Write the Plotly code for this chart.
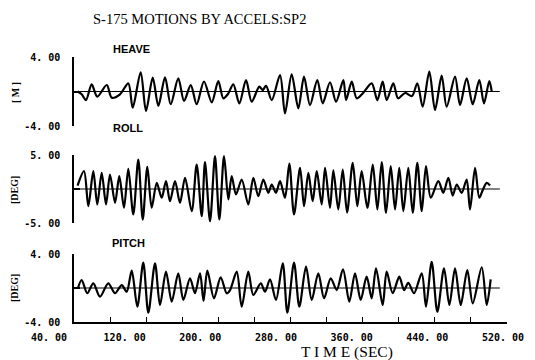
import plotly.graph_objects as go

# ---- data (times in s: local extremes) ----
heave_t = [44, 48.5, 53.3, 59.6, 65.8, 76.3, 81.8, 91.0, 100.2, 105.1, 113.9, 119.8, 127.3, 133.5, 140.9,
           147.2, 155.6, 162.0, 169.4, 176.0, 184.1, 192.7, 200.0, 205.5, 210.7, 216.6, 223.3, 230.7,
           237.0, 245.4, 249.2, 252.9, 259.2, 268.4, 273.9, 281.3, 288.7, 295.0, 301.6, 309.7, 315.7,
           323.8, 330.5, 338.6, 341.6, 347.9, 353.4, 360.4, 370.0, 376.3, 382.2, 386.6, 394.0, 399.2,
           407.0, 414.7, 420.6, 426.5, 433.9, 440.2, 447.6, 453.1, 462.4, 467.9, 475.3, 482.0, 489.3,
           494.5, 500.4, 503.1]
heave_v = [0.0, -0.32, -0.99, 0.83, -0.60, 0.75, -0.72, -0.32, 0.95, -1.88, 2.23, -2.26, 1.60, -1.68, 1.65,
           -1.48, 1.53, -1.10, 0.75, -1.48, 1.16, -1.25, 1.22, -0.79, -0.29, 0.83, -1.37, 1.33,
           -1.18, 0.56, 0.17, 0.67, -0.99, 1.91, -2.53, 1.99, -1.95, 1.72, -1.57, 1.33, -1.37,
           1.07, -1.18, 1.33, -0.99, 1.14, -0.79, -0.17, 0.95, -0.99, 1.14, -0.99, 0.95, -0.79,
           -0.17, -0.52, 0.95, -1.76, 2.30, -2.14, 1.83, -1.76, 1.72, -1.57, 1.53, -1.48, 1.33,
           -1.37, 1.22, -0.02]

roll_t = [44, 51.1, 55.9, 61.4, 65.8, 70.7, 75.5, 79.9, 85.5, 90.2, 95.4, 100.2, 105.7, 111.3, 116.2,
          121.3, 126.1, 131.7, 137.2, 142.0, 146.4, 152.0, 157.5, 163.1, 170.5, 176.0, 181.6, 185.2,
          190.8, 196.3, 201.1, 206.3, 211.1, 214.8, 219.6, 225.9, 233.2, 238.8, 244.3, 249.9, 255.4,
          259.2, 263.9, 268.4, 273.9, 278.7, 283.9, 290.6, 295.0, 299.8, 304.6, 309.1, 314.6, 318.3,
          323.8, 327.5, 333.0, 337.9, 342.7, 349.0, 354.1, 358.9, 365.2, 371.2, 376.3, 381.1, 385.9,
          391.1, 395.9, 400.6, 405.1, 410.6, 415.5, 420.6, 425.5, 430.2, 435.5, 443.9, 449.4, 455.0,
          459.8, 464.3, 469.8, 475.3, 479.0, 484.6, 489.3, 493.4, 497.5, 501.2]
roll_v = [0.5, 2.62, -2.53, 2.62, -2.28, 2.38, -2.28, 2.13, -2.03, 1.88, -2.76, 2.97, -3.75, 4.34, -4.49,
          3.26, -2.76, 0.91, -1.29, 1.15, -1.79, 1.15, -2.03, 1.65, -3.26, 3.60, -4.0, 3.94,
          -4.74, 4.82, -4.49, 4.82, -1.54, 1.88, -0.81, 1.40, -2.28, 1.65, -1.06, 1.40, -0.56,
          0.66, -0.56, 1.15, -1.29, 3.75, -3.75, 3.12, -2.53, 2.38, -1.79, 2.62, -2.28, 3.12,
          -2.76, 2.76, -3.01, 2.87, -3.46, 3.85, -2.53, 2.62, -2.76, 3.60, -3.01, 3.94, -3.50,
          3.35, -3.01, 3.12, -3.26, 3.12, -3.50, 3.85, -3.26, 3.35, -1.29, 1.15, -0.56, 1.65,
          -0.96, 0.66, -0.56, 1.40, -3.01, 3.12, -1.29, -0.07, 0.91, 0.51]

pitch_t = [44.4, 48.5, 54.7, 61.4, 68.8, 78.0, 85.5, 92.9, 98.4, 104.0, 110.2, 116.8, 122.4, 129.8, 135.3,
           142.0, 148.3, 155.6, 161.2, 168.6, 174.1, 179.7, 183.6, 187.8, 195.2, 202.6, 209.3, 213.0,
           220.4, 225.9, 233.2, 238.8, 247.0, 251.8, 257.3, 263.9, 271.4, 276.5, 283.9, 289.8, 297.2,
           303.5, 310.8, 317.2, 324.6, 331.2, 338.2, 345.2, 351.5, 357.8, 364.4, 370.0, 374.8, 382.2,
           386.6, 393.3, 400.6, 405.9, 410.6, 416.9, 425.5, 430.2, 436.5, 442.8, 450.2, 456.1, 462.4,
           468.7, 476.0, 482.0, 492.0, 497.5, 501.9]
pitch_v = [0.0, 0.94, -0.62, 0.55, -1.02, 0.55, -0.62, 0.35, -0.44, 2.04, -2.20, 2.98, -2.91, 2.91, -2.0,
           1.92, -1.61, 1.73, -1.41, 1.14, -0.62, 1.73, -1.53, 2.04, -1.21, 1.26, -0.62, -0.24,
           1.92, -2.20, 1.92, -0.82, 0.55, -0.44, 1.02, -1.41, 2.91, -2.91, 2.98, -2.20, 2.51,
           -1.41, 1.73, -1.21, 1.14, -0.24, 2.20, -1.61, 1.73, -1.41, 1.33, -1.21, 2.32, -2.0,
           1.92, -0.62, 1.33, -0.24, 0.62, -0.62, 1.73, -2.20, 3.09, -2.79, 2.32, -2.0, 2.32,
           -2.0, 2.12, -1.80, 2.44, -2.0, 1.02]

x_range = [40, 520]
x_minor_ticks = [80, 120, 160, 200, 240, 280, 320, 360, 400, 440, 480, 520]
x_label_vals = [40, 120, 200, 280, 360, 440, 520]
x_label_text = ["40. 00", "120. 00", "200. 00", "280. 00", "360. 00", "440. 00", "520. 00"]

panels = [
    dict(name="HEAVE", unit="[ M ]", t=heave_t, v=heave_v, lim=4.0, labels=["-4. 00", "", "4. 00"]),
    dict(name="ROLL", unit="[DEG]", t=roll_t, v=roll_v, lim=5.0, labels=["-5. 00", "", "5. 00"]),
    dict(name="PITCH", unit="[DEG]", t=pitch_t, v=pitch_v, lim=4.0, labels=["-4. 00", "", "4. 00"]),
]

# page body has an 8px margin: lay out in window pixels, then shift
OFF = 8
W, H = 535 - OFF, 360 - OFF


def px_x(p):
    return (p - OFF) / W


def px_y(p):
    return 1 - (p - OFF) / H


x_dom = [px_x(74), px_x(507)]
y_px = [(57, 126), (155, 223), (254, 322)]
title_px = [(111, 49), (111, 128), (110, 243)]
unit_px = [(15, 93), (14, 190), (14, 288)]

mono = dict(family="DejaVu Sans Mono", size=10, color="black", weight="bold")

fig = go.Figure()
layout = dict(width=W, height=H, margin=dict(l=0, r=0, t=0, b=0),
              paper_bgcolor="white", plot_bgcolor="rgba(0,0,0,0)", showlegend=False)
shapes = []
annotations = []

for i, p in enumerate(panels, start=1):
    xa = "x" if i == 1 else f"x{i}"
    ya = "y" if i == 1 else f"y{i}"
    xkey = "xaxis" if i == 1 else f"xaxis{i}"
    ykey = "yaxis" if i == 1 else f"yaxis{i}"
    fig.add_trace(go.Scatter(x=p["t"], y=p["v"], xaxis=xa, yaxis=ya, mode="lines",
                             line=dict(color="black", width=2.2, shape="spline", smoothing=0.85),
                             hoverinfo="skip"))
    top, bot = y_px[i - 1]
    layout[ykey] = dict(domain=[px_y(bot), px_y(top)], range=[-p["lim"], p["lim"]], anchor=xa,
                        showline=True, linecolor="black", linewidth=1.5, ticks="inside", ticklen=6,
                        tickwidth=1.5, tickcolor="black", tickvals=[-p["lim"], 0, p["lim"]],
                        ticktext=p["labels"], tickfont=mono, ticklabelstandoff=10,
                        showgrid=False, zeroline=False, automargin=False, fixedrange=True)
    xa_def = dict(domain=x_dom, range=x_range, anchor=ya, showgrid=False, zeroline=False,
                  showticklabels=False, automargin=False, fixedrange=True)
    if i == 3:
        xa_def.update(showline=True, linecolor="black", linewidth=1.5, ticks="inside", ticklen=5,
                      tickwidth=1.2, tickcolor="black", tickvals=x_minor_ticks)
    else:
        xa_def.update(showline=False, ticks="")
    layout[xkey] = xa_def
    # zero reference line
    shapes.append(dict(type="line", xref=xa, yref=ya, x0=x_range[0], x1=512, y0=0, y1=0,
                       line=dict(color="black", width=1.2), layer="below"))
    tx, ty = title_px[i - 1]
    annotations.append(dict(text=p["name"], x=px_x(tx), y=px_y(ty), xref="paper", yref="paper",
                            xanchor="left", yanchor="middle", showarrow=False,
                            font=dict(family="Liberation Sans", size=11, color="black", weight="bold")))
    ux, uy = unit_px[i - 1]
    annotations.append(dict(text=p["unit"], x=px_x(ux), y=px_y(uy), xref="paper", yref="paper",
                            xanchor="center", yanchor="middle", showarrow=False, textangle=-90,
                            font=dict(family="Liberation Serif", size=10, color="black", weight="bold")))

# separate label axis for the time tick labels (slightly offset from the tick marks, as printed)
lab_k = (503 - 49) / (520 - 40)            # px per second of the printed labels
lab_a = 40 - (49 - OFF) / lab_k
lab_b = lab_a + W / lab_k
fig.add_trace(go.Scatter(x=[], y=[], xaxis="x4", yaxis="y3", mode="lines", hoverinfo="skip"))
layout["xaxis4"] = dict(domain=[0, 1], anchor="y3", side="bottom", range=[lab_a, lab_b],
                        tickvals=x_label_vals, ticktext=x_label_text, tickfont=mono, ticks="",
                        showline=False, showgrid=False, zeroline=False, ticklabelstandoff=8,
                        automargin=False, fixedrange=True)

annotations.append(dict(text="S-175 MOTIONS BY ACCELS:SP2", x=px_x(199), y=px_y(19), xref="paper",
                        yref="paper", showarrow=False, xanchor="center", yanchor="middle",
                        font=dict(family="Liberation Serif", size=14.5, color="black")))
annotations.append(dict(text="T I M E (SEC)", x=px_x(347), y=px_y(352), xref="paper", yref="paper",
                        showarrow=False, xanchor="center", yanchor="middle",
                        font=dict(family="Liberation Serif", size=15.5, color="black")))

layout["shapes"] = shapes
layout["annotations"] = annotations
fig.update_layout(**layout)
fig.write_html("out.html", config={"displayModeBar": False})
